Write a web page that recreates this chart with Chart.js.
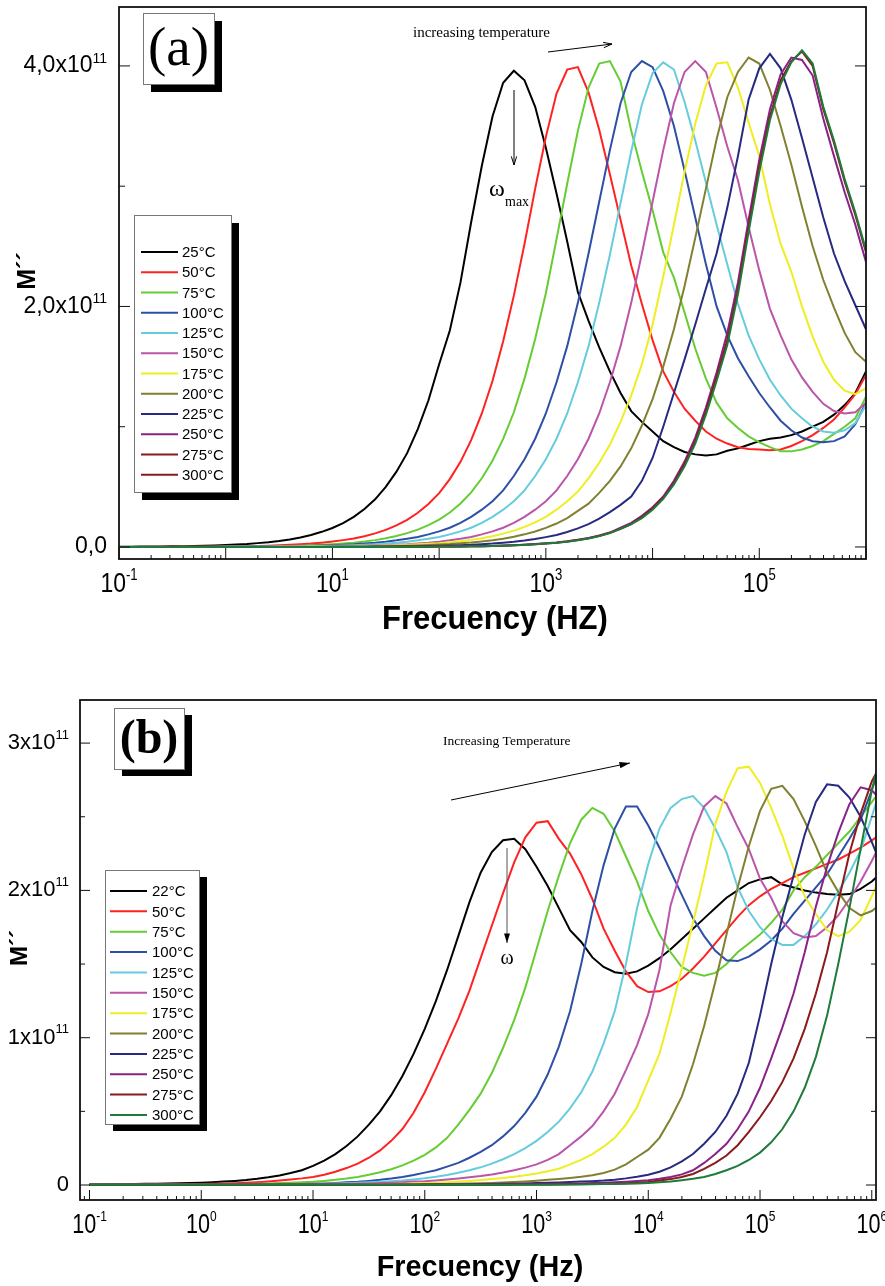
<!DOCTYPE html>
<html>
<head>
<meta charset="utf-8">
<script src="https://cdn.jsdelivr.net/npm/chart.js@4.4.1/dist/chart.umd.min.js"></script>
<style>
  body { margin: 0; background: #fff; }
  #wrap { position: relative; width: 885px; height: 1286px; }
  canvas { position: absolute; left: 0; }
</style>
</head>
<body>
<div id="wrap">
  <canvas id="chartA" width="885" height="650" style="top:0"></canvas>
  <canvas id="chartB" width="885" height="636" style="top:650px"></canvas>
</div>
<script>
// frequency grid (Hz), 10 points per decade
const freq = [
  0.1, 0.1259, 0.1585, 0.1995, 0.2512, 0.3162, 0.3981, 0.5012, 0.631, 0.7943,
  1, 1.259, 1.585, 1.995, 2.512, 3.162, 3.981, 5.012, 6.31, 7.943,
  10, 12.59, 15.85, 19.95, 25.12, 31.62, 39.81, 50.12, 63.1, 79.43,
  100, 125.9, 158.5, 199.5, 251.2, 316.2, 398.1, 501.2, 631, 794.3,
  1000, 1259, 1585, 1995, 2512, 3162, 3981, 5012, 6310, 7943,
  1e4, 12590, 15850, 19950, 25120, 31620, 39810, 50120, 63100, 79430,
  1e5, 125900, 158500, 199500, 251200, 316200, 398100, 501200, 631000, 794300,
  1e6, 1259000
];

// panel (a): M'' in units of 1e11
const a25 = [0.002,0.002,0.003,0.003,0.004,0.005,0.006,0.008,0.010,0.013,
  0.016,0.020,0.025,0.032,0.040,0.050,0.063,0.079,0.100,0.126,
  0.158,0.199,0.25,0.315,0.396,0.50,0.626,0.78,0.98,1.22,
  1.52,1.80,2.20,2.70,3.17,3.58,3.86,3.96,3.88,3.66,
  3.32,2.94,2.54,2.12,1.88,1.66,1.46,1.28,1.13,1.04,
  0.96,0.88,0.83,0.79,0.77,0.76,0.77,0.80,0.82,0.85,
  0.88,0.90,0.91,0.93,0.96,1.00,1.04,1.10,1.18,1.28,
  1.46];
const a50 = [0,0,0,0,0.001,0.001,0.002,0.002,0.002,0.003,
  0.005,0.006,0.007,0.009,0.011,0.014,0.018,0.023,0.028,0.036,
  0.045,0.057,0.071,0.089,0.113,0.142,0.179,0.225,0.284,0.357,
  0.448,0.564,0.708,0.888,1.11,1.38,1.71,2.09,2.52,2.98,
  3.41,3.77,3.97,3.99,3.78,3.47,3.10,2.72,2.34,2.02,
  1.72,1.46,1.29,1.15,1.05,0.96,0.90,0.86,0.83,0.815,
  0.81,0.805,0.81,0.84,0.88,0.93,0.99,1.06,1.16,1.27,
  1.43];
const a75 = [0,0,0,0,0,0,0.001,0.001,0.001,0.002,
  0.002,0.003,0.004,0.005,0.006,0.007,0.009,0.011,0.014,0.018,
  0.023,0.029,0.036,0.045,0.057,0.072,0.091,0.115,0.144,0.181,
  0.228,0.287,0.362,0.454,0.571,0.717,0.899,1.12,1.40,1.73,
  2.11,2.56,3.02,3.46,3.82,4.02,4.04,3.87,3.46,3.12,
  2.80,2.45,2.24,1.95,1.65,1.40,1.20,1.07,0.99,0.92,
  0.87,0.83,0.795,0.795,0.81,0.84,0.88,0.94,1.00,1.07,
  1.25];
const a100 = [0,0,0,0,0,0,0,0,0,0.001,
  0.001,0.002,0.002,0.003,0.004,0.005,0.006,0.008,0.010,0.012,
  0.015,0.019,0.023,0.029,0.035,0.044,0.055,0.068,0.083,0.105,
  0.13,0.16,0.20,0.25,0.31,0.38,0.47,0.59,0.73,0.90,
  1.11,1.37,1.67,2.03,2.44,2.87,3.30,3.69,3.95,4.04,
  3.99,3.79,3.50,3.13,2.74,2.35,2.00,1.76,1.57,1.42,
  1.28,1.16,1.05,0.97,0.91,0.88,0.87,0.88,0.92,1.02,
  1.20];
const a125 = [0,0,0,0,0,0,0,0,0,0,
  0.001,0.001,0.001,0.002,0.002,0.003,0.004,0.005,0.006,0.008,
  0.010,0.012,0.015,0.019,0.023,0.029,0.035,0.044,0.055,0.068,
  0.083,0.105,0.13,0.16,0.20,0.25,0.31,0.38,0.47,0.59,
  0.73,0.90,1.11,1.37,1.67,2.03,2.43,2.86,3.29,3.68,
  3.94,4.03,3.97,3.70,3.38,3.03,2.68,2.35,2.02,1.76,
  1.56,1.39,1.26,1.15,1.07,1.00,0.96,0.95,0.97,1.03,
  1.18];
const a150 = [0,0,0,0,0,0,0,0,0,0,
  0,0,0.001,0.001,0.001,0.001,0.002,0.002,0.003,0.004,
  0.005,0.006,0.008,0.010,0.012,0.015,0.019,0.023,0.029,0.035,
  0.044,0.055,0.068,0.083,0.105,0.13,0.16,0.20,0.25,0.31,
  0.38,0.47,0.59,0.73,0.90,1.11,1.37,1.67,2.03,2.44,
  2.87,3.30,3.69,3.95,4.04,3.95,3.65,3.33,3.05,2.66,
  2.30,1.98,1.76,1.56,1.41,1.29,1.19,1.13,1.11,1.12,
  1.20];
const a175 = [0,0,0,0,0,0,0,0,0,0,
  0,0,0,0,0,0.001,0.002,0.002,0.003,0.003,
  0.004,0.005,0.006,0.008,0.010,0.012,0.015,0.018,0.022,0.027,
  0.032,0.039,0.048,0.059,0.073,0.090,0.111,0.136,0.167,0.205,
  0.25,0.31,0.38,0.46,0.57,0.70,0.85,1.04,1.26,1.52,
  1.85,2.25,2.68,3.12,3.52,3.84,4.02,4.03,3.82,3.53,
  3.25,2.85,2.52,2.29,2.00,1.75,1.54,1.39,1.30,1.27,
  1.32];
const a200 = [0,0,0,0,0,0,0,0,0,0,
  0,0,0,0,0,0,0,0,0,0.001,
  0.002,0.003,0.004,0.004,0.006,0.007,0.009,0.011,0.013,0.016,
  0.020,0.024,0.030,0.037,0.046,0.056,0.069,0.085,0.105,0.129,
  0.159,0.195,0.24,0.30,0.36,0.45,0.55,0.67,0.82,1.01,
  1.23,1.50,1.81,2.17,2.57,2.98,3.39,3.74,3.95,4.07,
  4.02,3.80,3.50,3.18,2.83,2.50,2.22,1.99,1.78,1.62,
  1.54];
const a225 = [0,0,0,0,0,0,0,0,0,0,
  0,0,0,0,0,0,0,0,0,0,
  0.001,0.001,0.002,0.002,0.003,0.003,0.004,0.005,0.006,0.008,
  0.010,0.012,0.015,0.018,0.023,0.028,0.035,0.043,0.053,0.066,
  0.082,0.10,0.125,0.155,0.19,0.235,0.29,0.35,0.42,0.55,
  0.74,1.00,1.28,1.56,1.85,2.15,2.44,2.82,3.25,3.72,
  3.98,4.10,3.98,3.72,3.40,3.07,2.74,2.44,2.21,2.01,
  1.81];
const a250 = [0,0,0,0,0,0,0,0,0,0,
  0,0,0,0,0,0,0,0,0,0,
  0,0,0,0,0,0,0.001,0.002,0.002,0.002,
  0.003,0.003,0.004,0.006,0.007,0.009,0.012,0.015,0.019,0.024,
  0.030,0.037,0.047,0.060,0.075,0.095,0.12,0.16,0.20,0.26,
  0.33,0.42,0.55,0.71,0.91,1.16,1.45,1.78,2.20,2.72,
  3.22,3.64,3.93,4.07,4.05,3.92,3.56,3.25,2.95,2.68,
  2.37];
const a275 = [0,0,0,0,0,0,0,0,0,0,
  0,0,0,0,0,0,0,0,0,0,
  0,0,0,0,0,0,0,0.001,0.001,0.002,
  0.003,0.003,0.004,0.005,0.007,0.009,0.011,0.014,0.018,0.023,
  0.029,0.036,0.045,0.058,0.072,0.092,0.118,0.15,0.19,0.25,
  0.32,0.41,0.53,0.69,0.88,1.13,1.41,1.72,2.14,2.66,
  3.16,3.58,3.88,4.04,4.12,4.00,3.64,3.36,3.04,2.76,
  2.45];
const a300 = [0,0,0,0,0,0,0,0,0,0,
  0,0,0,0,0,0,0,0,0,0,
  0,0,0,0,0,0,0,0.001,0.001,0.002,
  0.003,0.003,0.004,0.005,0.007,0.009,0.011,0.014,0.017,0.022,
  0.028,0.035,0.044,0.056,0.070,0.090,0.115,0.15,0.19,0.24,
  0.31,0.40,0.52,0.67,0.86,1.10,1.38,1.68,2.10,2.62,
  3.12,3.55,3.85,4.03,4.13,4.02,3.66,3.38,3.06,2.78,
  2.47];

// panel (b): M'' in units of 1e11
const b22 = [0.003,0.004,0.005,0.006,0.007,0.008,0.009,0.010,0.012,0.014,
  0.016,0.019,0.023,0.028,0.034,0.042,0.052,0.065,0.081,0.10,
  0.13,0.165,0.21,0.265,0.33,0.41,0.50,0.61,0.74,0.89,
  1.06,1.25,1.46,1.69,1.92,2.12,2.26,2.34,2.35,2.28,
  2.16,2.03,1.88,1.73,1.65,1.545,1.48,1.445,1.435,1.45,
  1.49,1.54,1.60,1.67,1.74,1.81,1.88,1.95,2.00,2.05,
  2.075,2.09,2.04,2.02,2.00,1.985,1.975,1.97,1.975,2.01,
  2.06,2.13];
const b50 = [0.002,0.002,0.002,0.003,0.003,0.003,0.004,0.004,0.005,0.006,
  0.007,0.008,0.010,0.012,0.015,0.019,0.024,0.030,0.037,0.045,
  0.055,0.07,0.09,0.115,0.145,0.185,0.235,0.30,0.38,0.49,
  0.63,0.79,0.96,1.13,1.32,1.54,1.76,1.98,2.19,2.36,
  2.46,2.47,2.35,2.25,2.11,1.94,1.74,1.59,1.45,1.35,
  1.31,1.315,1.35,1.40,1.47,1.55,1.64,1.73,1.82,1.90,
  1.96,2.01,2.05,2.09,2.12,2.15,2.18,2.21,2.25,2.29,
  2.34,2.39];
const b75 = [0.001,0.001,0.001,0.001,0.002,0.002,0.002,0.002,0.003,0.003,
  0.004,0.004,0.005,0.006,0.007,0.009,0.011,0.013,0.015,0.018,
  0.022,0.028,0.035,0.044,0.055,0.069,0.086,0.107,0.133,0.165,
  0.205,0.255,0.32,0.41,0.51,0.62,0.76,0.93,1.12,1.34,
  1.60,1.86,2.10,2.32,2.48,2.56,2.52,2.40,2.23,2.06,
  1.86,1.70,1.58,1.48,1.44,1.42,1.44,1.50,1.58,1.64,
  1.70,1.78,1.87,2.00,2.09,2.16,2.24,2.32,2.40,2.50,
  2.60,2.70];
const b100 = [0.001,0.001,0.001,0.001,0.001,0.001,0.001,0.001,0.001,0.001,
  0.001,0.002,0.002,0.002,0.003,0.003,0.004,0.005,0.006,0.007,
  0.009,0.011,0.014,0.018,0.022,0.028,0.035,0.044,0.055,0.068,
  0.084,0.10,0.125,0.15,0.185,0.225,0.27,0.33,0.40,0.49,
  0.60,0.75,0.94,1.18,1.50,1.86,2.17,2.42,2.57,2.57,
  2.44,2.29,2.13,1.97,1.81,1.69,1.59,1.525,1.52,1.55,
  1.60,1.66,1.74,1.84,1.93,2.02,2.11,2.23,2.35,2.48,
  2.68,2.90];
const b125 = [0.001,0.001,0.001,0.001,0.001,0.001,0.001,0.001,0.001,0.001,
  0.001,0.001,0.001,0.002,0.002,0.002,0.003,0.003,0.004,0.005,
  0.006,0.008,0.010,0.012,0.015,0.018,0.022,0.026,0.031,0.038,
  0.046,0.056,0.068,0.083,0.10,0.12,0.145,0.175,0.21,0.25,
  0.30,0.36,0.43,0.52,0.63,0.77,0.96,1.18,1.50,1.88,
  2.18,2.42,2.56,2.62,2.64,2.56,2.42,2.26,2.02,1.86,
  1.75,1.67,1.63,1.63,1.69,1.77,1.87,1.99,2.12,2.27,
  2.50,2.75];
const b150 = [0.001,0.001,0.001,0.001,0.001,0.001,0.001,0.001,0.001,0.001,
  0.001,0.001,0.001,0.001,0.001,0.002,0.002,0.002,0.003,0.003,
  0.004,0.005,0.006,0.007,0.009,0.011,0.013,0.016,0.019,0.023,
  0.026,0.031,0.037,0.044,0.052,0.061,0.072,0.085,0.10,0.118,
  0.14,0.17,0.21,0.27,0.33,0.40,0.50,0.62,0.78,0.95,
  1.16,1.46,1.90,2.15,2.38,2.57,2.64,2.59,2.43,2.28,
  2.08,1.95,1.79,1.71,1.68,1.69,1.75,1.83,1.94,2.06,
  2.20,2.35];
const b175 = [0.001,0.001,0.001,0.001,0.001,0.001,0.001,0.001,0.001,0.001,
  0.001,0.001,0.001,0.001,0.001,0.001,0.001,0.001,0.001,0.001,
  0.001,0.002,0.003,0.003,0.004,0.005,0.006,0.007,0.009,0.011,
  0.013,0.016,0.019,0.023,0.028,0.034,0.040,0.047,0.056,0.066,
  0.078,0.093,0.11,0.14,0.17,0.21,0.26,0.32,0.41,0.53,
  0.71,0.89,1.17,1.47,1.78,2.10,2.45,2.67,2.83,2.84,
  2.73,2.56,2.37,2.15,1.96,1.84,1.73,1.69,1.72,1.80,
  1.96,2.14];
const b200 = [0.001,0.001,0.001,0.001,0.001,0.001,0.001,0.001,0.001,0.001,
  0.001,0.001,0.001,0.001,0.001,0.001,0.001,0.001,0.001,0.001,
  0.001,0.001,0.001,0.001,0.001,0.002,0.002,0.003,0.003,0.004,
  0.005,0.006,0.007,0.008,0.010,0.012,0.014,0.017,0.020,0.024,
  0.029,0.035,0.041,0.048,0.056,0.066,0.082,0.104,0.14,0.19,
  0.24,0.32,0.45,0.60,0.82,1.08,1.38,1.70,2.02,2.30,
  2.54,2.69,2.71,2.62,2.47,2.30,2.12,1.99,1.88,1.83,
  1.86,1.92];
const b225 = [0.001,0.001,0.001,0.001,0.001,0.001,0.001,0.001,0.001,0.001,
  0.001,0.001,0.001,0.001,0.001,0.001,0.001,0.001,0.001,0.001,
  0.001,0.001,0.001,0.001,0.001,0.001,0.001,0.002,0.002,0.002,
  0.003,0.003,0.004,0.004,0.005,0.006,0.007,0.008,0.009,0.011,
  0.013,0.015,0.017,0.020,0.023,0.026,0.030,0.036,0.045,0.056,
  0.070,0.090,0.12,0.16,0.21,0.28,0.36,0.47,0.62,0.83,
  1.15,1.50,1.82,2.10,2.38,2.60,2.72,2.71,2.63,2.50,
  2.33,2.14];
const b250 = [0.001,0.001,0.001,0.001,0.001,0.001,0.001,0.001,0.001,0.001,
  0.001,0.001,0.001,0.001,0.001,0.001,0.001,0.001,0.001,0.001,
  0.001,0.001,0.001,0.001,0.001,0.001,0.001,0.001,0.001,0.001,
  0.001,0.002,0.002,0.002,0.002,0.003,0.003,0.004,0.004,0.005,
  0.006,0.007,0.008,0.009,0.011,0.013,0.015,0.018,0.022,0.027,
  0.033,0.042,0.055,0.072,0.10,0.15,0.21,0.28,0.38,0.50,
  0.66,0.86,1.07,1.30,1.58,1.89,2.16,2.39,2.585,2.70,
  2.68,2.60];
const b275 = [0.001,0.001,0.001,0.001,0.001,0.001,0.001,0.001,0.001,0.001,
  0.001,0.001,0.001,0.001,0.001,0.001,0.001,0.001,0.001,0.001,
  0.001,0.001,0.001,0.001,0.001,0.001,0.001,0.001,0.001,0.001,
  0.001,0.001,0.001,0.002,0.002,0.002,0.002,0.002,0.003,0.003,
  0.003,0.004,0.004,0.005,0.006,0.007,0.008,0.010,0.012,0.015,
  0.02,0.03,0.04,0.055,0.075,0.11,0.15,0.20,0.27,0.36,
  0.46,0.57,0.70,0.86,1.06,1.30,1.58,1.92,2.25,2.52,
  2.74,2.88];
const b300 = [0.001,0.001,0.001,0.001,0.001,0.001,0.001,0.001,0.001,0.001,
  0.001,0.001,0.001,0.001,0.001,0.001,0.001,0.001,0.001,0.001,
  0.001,0.001,0.001,0.001,0.001,0.001,0.001,0.001,0.001,0.001,
  0.001,0.001,0.001,0.001,0.001,0.002,0.002,0.002,0.002,0.002,
  0.002,0.002,0.003,0.003,0.004,0.005,0.006,0.007,0.009,0.011,
  0.014,0.018,0.023,0.032,0.042,0.055,0.075,0.10,0.13,0.17,
  0.22,0.29,0.38,0.50,0.66,0.87,1.15,1.50,1.88,2.28,
  2.68,2.98];

const tempsA = ['25°C','50°C','75°C','100°C','125°C','150°C','175°C','200°C','225°C','250°C','275°C','300°C'];
const tempsB = ['22°C','50°C','75°C','100°C','125°C','150°C','175°C','200°C','225°C','250°C','275°C','300°C'];
const seriesA = [a25, a50, a75, a100, a125, a150, a175, a200, a225, a250, a275, a300];
const seriesB = [b22, b50, b75, b100, b125, b150, b175, b200, b225, b250, b275, b300];

const colors = ['#000000','#ff2222','#66cc33','#2e4fa6','#66ccdd','#bb55aa',
                '#eeee22','#808030','#262a80','#882288','#8b1a1a','#1e7b3a'];
const legendColorsA = colors.slice(0, 11).concat(['#8b1a1a']);

const SANS = '"Liberation Sans", Arial, Helvetica, sans-serif';
const SERIF = '"Liberation Serif", "Times New Roman", serif';

function buildSets(series, names) {
  return series.map((vals, i) => ({
    label: names[i],
    data: vals.map((v, j) => ({ x: freq[j], y: v })),
    borderColor: colors[i],
    borderWidth: 2,
    pointRadius: 0,
    tension: 0,
    fill: false,
    order: -i
  }));
}

// "10" with a raised exponent, optional horizontal squeeze
function drawPow(ctx, x, y, base, exp, f) {
  const w = f.weight || '';
  ctx.font = `${w} ${f.size}px ${SANS}`;
  const wb = ctx.measureText(base).width * f.sx;
  ctx.font = `${w} ${f.expSize}px ${SANS}`;
  const we = exp ? ctx.measureText(exp).width * f.sx : 0;
  const left = f.align === 'right' ? x - wb - we : x - (wb + we) / 2;
  ctx.textAlign = 'left';
  ctx.textBaseline = 'middle';
  ctx.save();
  ctx.translate(left, y);
  ctx.scale(f.sx, 1);
  ctx.font = `${w} ${f.size}px ${SANS}`;
  ctx.fillText(base, 0, 0);
  ctx.restore();
  if (exp) {
    ctx.save();
    ctx.translate(left + wb, y - f.dy);
    ctx.scale(f.sx, 1);
    ctx.font = `${w} ${f.expSize}px ${SANS}`;
    ctx.fillText(exp, 0, 0);
    ctx.restore();
  }
}

function shadowBox(ctx, x, y, w, h, off) {
  ctx.fillStyle = '#000';
  ctx.fillRect(x + off[0], y + off[1], w, h);
  ctx.fillStyle = '#fff';
  ctx.fillRect(x, y, w, h);
  ctx.strokeStyle = '#777';
  ctx.lineWidth = 1;
  ctx.strokeRect(x + 0.5, y + 0.5, w, h);
}

function arrow(ctx, x0, y0, x1, y1, head, filled, color) {
  const ang = Math.atan2(y1 - y0, x1 - x0);
  ctx.strokeStyle = color || '#000';
  ctx.lineWidth = 1;
  ctx.beginPath();
  ctx.moveTo(x0, y0);
  ctx.lineTo(x1, y1);
  ctx.stroke();
  const a1 = ang + Math.PI - 0.3, a2 = ang + Math.PI + 0.3;
  ctx.strokeStyle = '#000';
  ctx.fillStyle = '#000';
  ctx.beginPath();
  ctx.moveTo(x1 + head * Math.cos(a1), y1 + head * Math.sin(a1));
  ctx.lineTo(x1, y1);
  ctx.lineTo(x1 + head * Math.cos(a2), y1 + head * Math.sin(a2));
  if (filled) { ctx.closePath(); ctx.fill(); } else { ctx.stroke(); }
}

const decor = {
  id: 'decor',
  afterDatasetsDraw(chart, args, o) {
    const { ctx, chartArea: ca } = chart;
    const xs = chart.scales.x, ys = chart.scales.y;
    ctx.save();

    // frame
    ctx.strokeStyle = '#111';
    ctx.lineWidth = 1.8;
    ctx.strokeRect(ca.left, ca.top, ca.right - ca.left, ca.bottom - ca.top);

    // inward ticks
    ctx.lineWidth = 1;
    ctx.beginPath();
    const e0 = Math.floor(Math.log10(xs.min)), e1 = Math.ceil(Math.log10(xs.max));
    for (let e = e0; e <= e1; e++) {
      for (let k = 1; k < 10; k++) {
        const v = k * Math.pow(10, e);
        if (v < xs.min * 0.999 || v > xs.max * 1.001) continue;
        const px = xs.getPixelForValue(v);
        const len = k === 1 ? o.majorLen : o.minorLen;
        ctx.moveTo(px, ca.bottom);
        ctx.lineTo(px, ca.bottom - len);
      }
    }
    o.yMajor.forEach(v => {
      const py = ys.getPixelForValue(v);
      ctx.moveTo(ca.left, py); ctx.lineTo(ca.left + o.majorLen, py);
      ctx.moveTo(ca.right, py); ctx.lineTo(ca.right - o.majorLen, py);
    });
    o.yMinor.forEach(v => {
      const py = ys.getPixelForValue(v);
      ctx.moveTo(ca.left, py); ctx.lineTo(ca.left + o.yMinorLen, py);
      ctx.moveTo(ca.right, py); ctx.lineTo(ca.right - o.yMinorLen, py);
    });
    ctx.stroke();

    // tick labels
    ctx.fillStyle = '#000';
    o.xExps.forEach(e => {
      drawPow(ctx, xs.getPixelForValue(Math.pow(10, e)), o.xLabelY, '10', String(e), o.xFont);
    });
    o.yLabels.forEach(t => {
      drawPow(ctx, o.yLabelX, ys.getPixelForValue(t.v), t.base, t.exp, o.yFont);
    });

    // axis titles
    ctx.save();
    ctx.translate(o.xTitle.x, o.xTitle.y);
    ctx.scale(o.xTitle.sx, 1);
    ctx.font = `bold ${o.xTitle.size}px ${SANS}`;
    ctx.textAlign = 'center';
    ctx.textBaseline = 'middle';
    ctx.fillText(o.xTitle.text, 0, 0);
    ctx.restore();

    ctx.save();
    ctx.translate(o.yTitle.x, o.yTitle.y);
    ctx.rotate(-Math.PI / 2);
    ctx.font = `bold ${o.yTitle.size}px ${SANS}`;
    ctx.textAlign = 'center';
    ctx.textBaseline = 'middle';
    ctx.fillText('M´´', 0, 0);
    ctx.restore();

    // legend
    const L = o.legend;
    shadowBox(ctx, L.x, L.y, L.w, L.h, L.off);
    chart.data.datasets.forEach((ds, i) => {
      const yy = L.firstY + i * L.step;
      ctx.strokeStyle = L.colors[i];
      ctx.lineWidth = 2;
      ctx.beginPath();
      ctx.moveTo(L.lineX0, yy);
      ctx.lineTo(L.lineX1, yy);
      ctx.stroke();
      ctx.fillStyle = '#000';
      ctx.font = `15px ${SANS}`;
      ctx.textAlign = 'left';
      ctx.textBaseline = 'middle';
      ctx.fillText(ds.label, L.textX, yy + 1);
    });

    // panel tag
    const T = o.tag;
    shadowBox(ctx, T.x, T.y, T.w, T.h, T.off);
    ctx.fillStyle = '#000';
    ctx.font = `${T.weight} ${T.size}px ${SERIF}`;
    ctx.textAlign = 'center';
    ctx.textBaseline = 'middle';
    ctx.fillText(T.text, T.x + T.w / 2, T.y + T.h / 2 + T.dy);

    // annotations
    o.draw(ctx);
    ctx.restore();
  }
};

function makeChart(id, series, names, cfg) {
  return new Chart(document.getElementById(id), {
    type: 'line',
    data: { datasets: buildSets(series, names) },
    options: {
      responsive: false,
      animation: false,
      events: [],
      layout: { padding: cfg.padding },
      scales: {
        x: {
          type: 'logarithmic', min: cfg.xMin, max: cfg.xMax,
          ticks: { display: false }, grid: { display: false }, border: { display: false },
          afterFit: s => { s.height = cfg.xHeight; }
        },
        y: {
          type: 'linear', min: cfg.yMin, max: cfg.yMax,
          ticks: { display: false }, grid: { display: false }, border: { display: false },
          afterFit: s => { s.width = cfg.yWidth; }
        }
      },
      plugins: {
        legend: { display: false },
        tooltip: { enabled: false },
        decor: cfg.decor
      }
    },
    plugins: [decor]
  });
}

makeChart('chartA', seriesA, tempsA, {
  padding: { top: 7, right: 19, left: 0, bottom: 0 },
  xMin: 0.1, xMax: 1e6, xHeight: 91,
  yMin: -0.1, yMax: 4.49, yWidth: 119,
  decor: {
    majorLen: 11, minorLen: 4, yMinorLen: 6,
    yMajor: [0, 2, 4], yMinor: [1, 3],
    xExps: [-1, 1, 3, 5],
    xLabelY: 584,
    xFont: { size: 28, expSize: 16, dy: 8, sx: 0.82 },
    yLabelX: 107,
    yFont: { size: 23, expSize: 14, dy: 7, sx: 1, align: 'right' },
    yLabels: [{ v: 0, base: '0,0', exp: '' }, { v: 2, base: '2,0x10', exp: '11' }, { v: 4, base: '4,0x10', exp: '11' }],
    xTitle: { text: 'Frecuency (HZ)', x: 495, y: 620, size: 33, sx: 0.94 },
    yTitle: { x: 28, y: 271, size: 25 },
    legend: { x: 134, y: 215, w: 97, h: 277, off: [8, 8], firstY: 252, step: 20.24,
              lineX0: 141, lineX1: 178, textX: 182, colors: legendColorsA },
    tag: { x: 143, y: 13, w: 71, h: 71, off: [8, 8], text: '(a)', size: 55, weight: '', dy: 2 },
    draw(ctx) {
      ctx.fillStyle = '#000';
      ctx.font = `15px ${SERIF}`;
      ctx.textAlign = 'left';
      ctx.textBaseline = 'middle';
      ctx.fillText('increasing temperature', 413, 33);
      arrow(ctx, 548, 52, 612, 44, 9, false);
      arrow(ctx, 514, 90, 514, 165, 9, false);
      ctx.font = `24px ${SERIF}`;
      ctx.fillText('ω', 489, 190);
      ctx.font = `14px ${SERIF}`;
      ctx.fillText('max', 505, 202);
    }
  }
});

makeChart('chartB', seriesB, tempsB, {
  padding: { top: 50, right: 9, left: 0, bottom: 0 },
  xMin: 0.0822, xMax: 1.091e6, xHeight: 86,
  yMin: -0.1018, yMax: 3.2926, yWidth: 80,
  decor: {
    majorLen: 10, minorLen: 4, yMinorLen: 5,
    yMajor: [0, 1, 2, 3], yMinor: [0.5, 1.5, 2.5],
    xExps: [-1, 0, 1, 2, 3, 4, 5, 6],
    xLabelY: 576,
    xFont: { size: 27, expSize: 15, dy: 9, sx: 0.8 },
    yLabelX: 69,
    yFont: { size: 22, expSize: 13, dy: 8, sx: 1, align: 'right' },
    yLabels: [{ v: 0, base: '0', exp: '' }, { v: 1, base: '1x10', exp: '11' }, { v: 2, base: '2x10', exp: '11' }, { v: 3, base: '3x10', exp: '11' }],
    xTitle: { text: 'Frecuency (Hz)', x: 480, y: 618, size: 30, sx: 0.96 },
    yTitle: { x: 20, y: 298, size: 24 },
    legend: { x: 105, y: 220, w: 94, h: 254, off: [8, 7], firstY: 241, step: 20.36,
              lineX0: 110, lineX1: 147, textX: 152, colors: colors },
    tag: { x: 114, y: 58, w: 70, h: 61, off: [8, 7], text: '(b)', size: 48, weight: 'bold', dy: 2 },
    draw(ctx) {
      ctx.fillStyle = '#000';
      ctx.font = `13.5px ${SERIF}`;
      ctx.textAlign = 'left';
      ctx.textBaseline = 'middle';
      ctx.fillText('Increasing Temperature', 443, 91);
      arrow(ctx, 451, 150, 630, 113, 11, true);
      arrow(ctx, 507, 198, 507, 293, 10, true, '#555');
      ctx.fillStyle = '#000';
      ctx.font = `20px ${SERIF}`;
      ctx.textAlign = 'center';
      ctx.fillText('ω', 507, 309);
    }
  }
});
</script>
</body>
</html>
